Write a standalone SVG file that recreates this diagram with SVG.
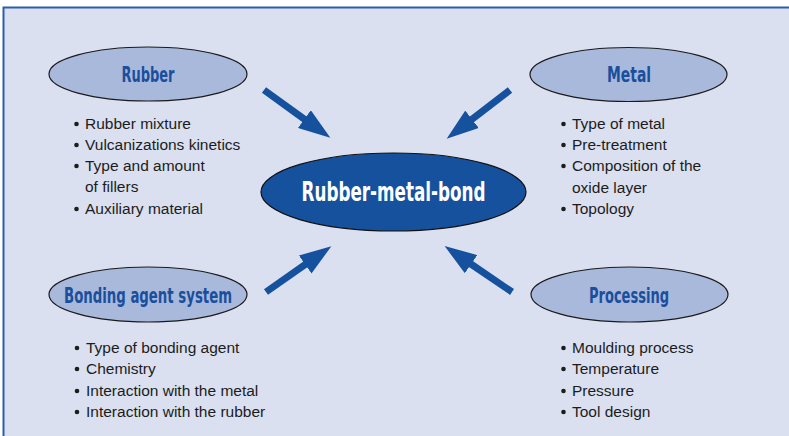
<svg xmlns="http://www.w3.org/2000/svg" width="789" height="436" viewBox="0 0 789 436">
<style>
.frame{fill:#dae0f0;stroke:#2d5ea9;stroke-width:2}
.sat{fill:#a9b9dc;stroke:#1a1a1a;stroke-width:1.2}
.core{fill:#15519d;stroke:#111;stroke-width:1.2}
.title{font-family:"DejaVu Sans Condensed","DejaVu Sans",sans-serif;font-weight:bold;font-size:21px;fill:#1a4f9c;text-anchor:middle}
.ctitle{font-family:"DejaVu Sans Condensed","DejaVu Sans",sans-serif;font-weight:bold;font-size:27px;fill:#ffffff;text-anchor:middle}
.item{font-family:"Liberation Sans",Arial,sans-serif;font-size:15.5px;fill:#1c1c1c}
.dot{fill:#1c1c1c}
.arrow{stroke:#15519d;stroke-width:7;fill:none;marker-end:url(#head)}
</style>
<defs>
<marker id="head" viewBox="0 0 32 22" refX="2" refY="11" markerWidth="32" markerHeight="22" markerUnits="userSpaceOnUse" orient="auto">
<path d="M0,0 L32,11 L0,22 Z" fill="#15519d"/>
</marker>
</defs>
<rect class="frame" x="3.5" y="7.5" width="800" height="440"/>
<g id="connectors">
<line class="arrow" x1="264" y1="90" x2="306" y2="120.3"/>
<line class="arrow" x1="510" y1="90" x2="470.4" y2="120.5"/>
<line class="arrow" x1="266" y1="292" x2="306.8" y2="263.4"/>
<line class="arrow" x1="512" y1="292" x2="469.4" y2="263"/>
</g>
<g id="node-center">
<ellipse class="core" cx="393.5" cy="192" rx="132.5" ry="39"/>
<text class="ctitle" x="393.5" y="201" textLength="184" lengthAdjust="spacingAndGlyphs">Rubber-metal-bond</text>
</g>
<g id="node-rubber">
<ellipse class="sat" cx="148" cy="74" rx="99" ry="27"/>
<text class="title" x="148" y="81.5" textLength="53" lengthAdjust="spacingAndGlyphs">Rubber</text>
<circle class="dot" cx="76.5" cy="124" r="2.3"/><text class="item" x="85" y="129">Rubber mixture</text>
<circle class="dot" cx="76.5" cy="145" r="2.3"/><text class="item" x="85" y="150">Vulcanizations kinetics</text>
<circle class="dot" cx="76.5" cy="166" r="2.3"/><text class="item" x="85" y="171">Type and amount</text>
<text class="item" x="85" y="192">of fillers</text>
<circle class="dot" cx="76.5" cy="209" r="2.3"/><text class="item" x="85" y="214">Auxiliary material</text>
</g>
<g id="node-metal">
<ellipse class="sat" cx="628.5" cy="74.5" rx="98.5" ry="27"/>
<text class="title" x="629" y="82" textLength="44" lengthAdjust="spacingAndGlyphs">Metal</text>
<circle class="dot" cx="563.5" cy="124" r="2.3"/><text class="item" x="572" y="129">Type of metal</text>
<circle class="dot" cx="563.5" cy="145" r="2.3"/><text class="item" x="572" y="150">Pre-treatment</text>
<circle class="dot" cx="563.5" cy="166" r="2.3"/><text class="item" x="572" y="171">Composition of the</text>
<text class="item" x="572" y="193">oxide layer</text>
<circle class="dot" cx="563.5" cy="209" r="2.3"/><text class="item" x="572" y="214">Topology</text>
</g>
<g id="node-bonding">
<ellipse class="sat" cx="148" cy="294.5" rx="99" ry="27.5"/>
<text class="title" x="148" y="303" textLength="168" lengthAdjust="spacingAndGlyphs">Bonding agent system</text>
<circle class="dot" cx="77" cy="348" r="2.3"/><text class="item" x="86" y="353">Type of bonding agent</text>
<circle class="dot" cx="77" cy="369" r="2.3"/><text class="item" x="86" y="374">Chemistry</text>
<circle class="dot" cx="77" cy="391" r="2.3"/><text class="item" x="86" y="396">Interaction with the metal</text>
<circle class="dot" cx="77" cy="412" r="2.3"/><text class="item" x="86" y="417">Interaction with the rubber</text>
</g>
<g id="node-processing">
<ellipse class="sat" cx="629.5" cy="294.5" rx="98.5" ry="27.5"/>
<text class="title" x="629" y="303" textLength="80" lengthAdjust="spacingAndGlyphs">Processing</text>
<circle class="dot" cx="563.5" cy="348" r="2.3"/><text class="item" x="572" y="353">Moulding process</text>
<circle class="dot" cx="563.5" cy="369" r="2.3"/><text class="item" x="572" y="374">Temperature</text>
<circle class="dot" cx="563.5" cy="391" r="2.3"/><text class="item" x="572" y="396">Pressure</text>
<circle class="dot" cx="563.5" cy="412" r="2.3"/><text class="item" x="572" y="417">Tool design</text>
</g>
</svg>
